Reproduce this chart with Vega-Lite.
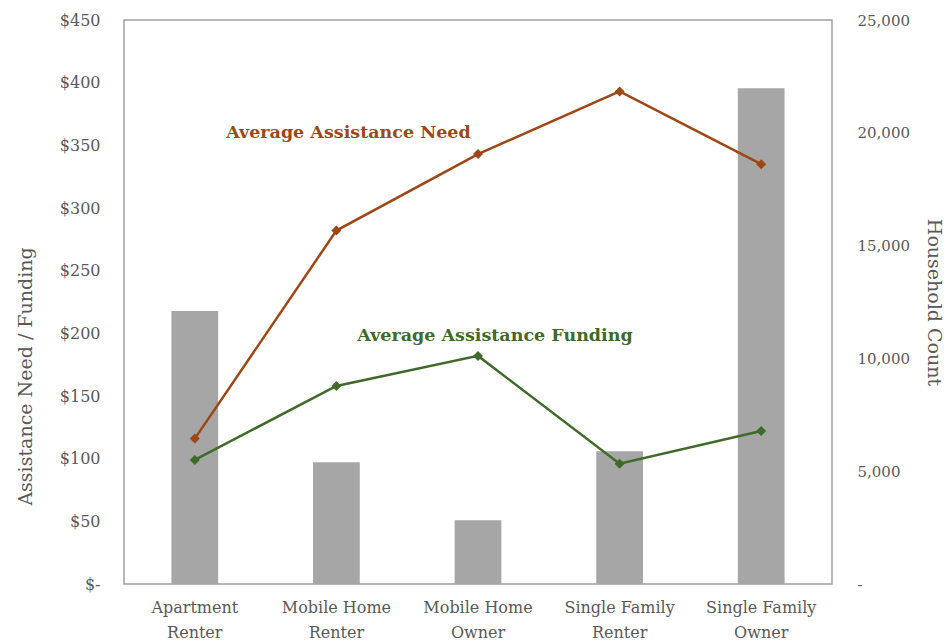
{
  "$schema": "https://vega.github.io/schema/vega-lite/v6.json",
  "width": 708,
  "height": 564,
  "autosize": {"type": "none"},
  "padding": {"left": 124, "top": 20, "right": 119, "bottom": 60},
  "background": "white",
  "config": {
    "font": "DejaVu Serif",
    "view": {"stroke": "#A0A0A0", "strokeWidth": 1.5},
    "axis": {
      "labelFont": "DejaVu Serif",
      "titleFont": "DejaVu Serif",
      "labelColor": "#595959",
      "titleColor": "#595959",
      "labelFontSize": 15,
      "titleFontSize": 19,
      "titleFontWeight": "normal",
      "domain": false,
      "ticks": false,
      "grid": false
    }
  },
  "datasets": {
    "labels": [
      {"cat": "Mobile Home Renter", "value": 360, "series": "need", "text": "Average Assistance Need"},
      {"cat": "Mobile Home Owner", "value": 198, "series": "funding", "text": "Average Assistance Funding"}
    ]
  },
  "data": {
    "values": [
      {"cat": "Apartment Renter", "households": 12100, "need": 116, "funding": 99},
      {"cat": "Mobile Home Renter", "households": 5400, "need": 282, "funding": 158},
      {"cat": "Mobile Home Owner", "households": 2830, "need": 343, "funding": 182},
      {"cat": "Single Family Renter", "households": 5880, "need": 393, "funding": 96},
      {"cat": "Single Family Owner", "households": 21980, "need": 335, "funding": 122}
    ]
  },
  "encoding": {
    "x": {
      "field": "cat",
      "type": "nominal",
      "sort": null,
      "scale": {"paddingInner": 0.67, "paddingOuter": 0.335},
      "axis": {
        "title": null,
        "labelAngle": 0,
        "labelFontSize": 16,
        "labelPadding": 15,
        "labelLineHeight": 25,
        "labelExpr": "[slice(datum.label, 0, lastindexof(datum.label, ' ')), slice(datum.label, lastindexof(datum.label, ' ') + 1)]"
      }
    }
  },
  "layer": [
    {
      "mark": {"type": "bar", "color": "#A6A6A6"},
      "encoding": {
        "y": {
          "field": "households",
          "type": "quantitative",
          "scale": {"domain": [0, 25000]},
          "axis": {
            "orient": "right",
            "title": "Household Count",
            "values": [0, 5000, 10000, 15000, 20000, 25000],
            "labelExpr": "datum.value == 0 ? '-' : format(datum.value, ',')",
            "labelPadding": 25,
            "titlePadding": 14
          }
        }
      }
    },
    {
      "layer": [
        {
          "transform": [{"fold": ["need", "funding"], "as": ["series", "value"]}],
          "mark": {"type": "line", "strokeWidth": 2.5, "point": {"shape": "diamond", "size": 100, "filled": true}},
          "encoding": {
            "y": {
              "field": "value",
              "type": "quantitative",
              "scale": {"domain": [0, 450]},
              "axis": {
                "orient": "left",
                "title": "Assistance Need / Funding",
                "labelFontSize": 16,
                "values": [0, 50, 100, 150, 200, 250, 300, 350, 400, 450],
                "labelExpr": "datum.value == 0 ? '$-' : '$' + format(datum.value, ',')",
                "labelPadding": 24,
                "titlePadding": 24,
                "titleY": 356
              }
            },
            "color": {
              "field": "series",
              "type": "nominal",
              "scale": {"domain": ["need", "funding"], "range": ["#9E4716", "#3F6A2A"]},
              "legend": null
            }
          }
        },
        {
          "data": {"name": "labels"},
          "transform": [{"filter": "datum.series == 'need'"}],
          "mark": {"type": "text", "fontWeight": "bold", "fontSize": 17.5, "font": "DejaVu Serif", "baseline": "middle", "align": "center", "dx": 12},
          "encoding": {
            "y": {"field": "value", "type": "quantitative"},
            "text": {"field": "text"},
            "color": {"field": "series", "type": "nominal", "legend": null}
          }
        },
        {
          "data": {"name": "labels"},
          "transform": [{"filter": "datum.series == 'funding'"}],
          "mark": {"type": "text", "fontWeight": "bold", "fontSize": 17.5, "font": "DejaVu Serif", "baseline": "middle", "align": "center", "dx": 17},
          "encoding": {
            "y": {"field": "value", "type": "quantitative"},
            "text": {"field": "text"},
            "color": {"field": "series", "type": "nominal", "legend": null}
          }
        }
      ]
    }
  ],
  "resolve": {"scale": {"y": "independent"}}
}
